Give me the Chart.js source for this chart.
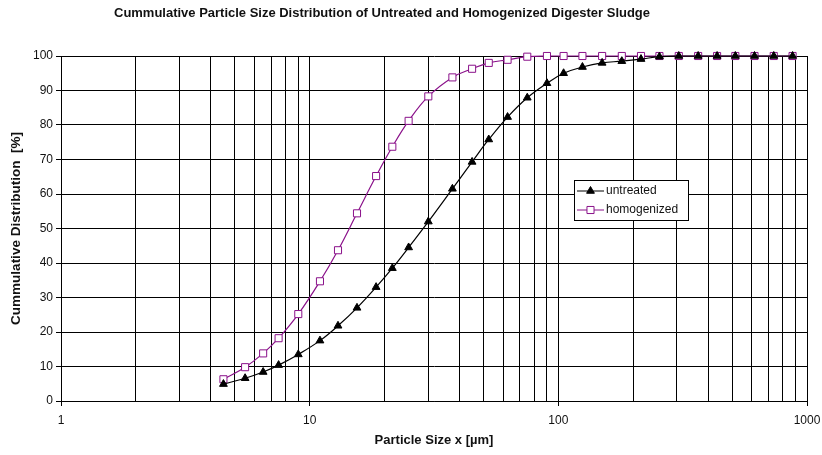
<!DOCTYPE html>
<html>
<head>
<meta charset="utf-8">
<title>Cummulative Particle Size Distribution</title>
<script src="https://cdn.jsdelivr.net/npm/chart.js@4.4.0/dist/chart.umd.min.js"></script>
<style>
  html, body { margin: 0; padding: 0; background: #fff; }
  canvas { display: block; }
</style>
</head>
<body>
<canvas id="psdChart" width="822" height="455"></canvas>
<script>
// particle size classes [µm]
const sizes = [4.5, 5.5, 6.5, 7.5, 9, 11, 13, 15.5, 18.5, 21.5, 25, 30, 37.5, 45, 52.5, 62.5, 75, 90,
  105, 125, 150, 180, 215, 255, 305, 365, 435, 515, 615, 735, 875];

// cumulative distribution [%]
const untreated = [4.9, 6.6, 8.4, 10.4, 13.5, 17.5, 21.8, 27.0, 33.0, 38.5, 44.5, 52.0, 61.5, 69.3, 75.8,
  82.3, 87.9, 92.1, 95.0, 96.8, 98.0, 98.5, 99.1, 99.8, 100, 100, 100, 100, 100, 100, 100];
const homogenized = [6.3, 9.8, 13.8, 18.2, 25.2, 34.7, 43.7, 54.4, 65.2, 73.7, 81.2, 88.3, 93.8, 96.3, 98.0,
  98.9, 99.8, 100, 100, 100, 100, 100, 100, 100, 100, 100, 100, 100, 100, 100, 100];

const xTicks = [1, 2, 3, 4, 5, 6, 7, 8, 9, 10, 20, 30, 40, 50, 60, 70, 80, 90,
  100, 200, 300, 400, 500, 600, 700, 800, 900, 1000];
const xLabels = [1, 10, 100, 1000];
const yTicks = [0, 10, 20, 30, 40, 50, 60, 70, 80, 90, 100];

const chartTitle = "Cummulative Particle Size Distribution of Untreated and Homogenized Digester Sludge";
const purple = "#8a118a";

Chart.defaults.font.family = "'Liberation Sans', Arial, sans-serif";
Chart.defaults.font.size = 12;
Chart.defaults.color = "#111";

const titlePlugin = {
  id: "plainTitle",
  afterDraw(chart) {
    const ctx = chart.ctx;
    ctx.save();
    ctx.font = "bold 13px 'Liberation Sans', Arial, sans-serif";
    ctx.fillStyle = "#111";
    ctx.textBaseline = "middle";
    ctx.textAlign = "left";
    ctx.fillText(chartTitle, 114, 13, 536);
    ctx.restore();
  }
};

// legend box sits inside the plot, like the original
const legendBox = {
  id: "legendBox",
  afterDraw(chart) {
    const ctx = chart.ctx;
    const left = 574, top = 180, w = 114, h = 40;
    ctx.save();
    ctx.fillStyle = "#fff";
    ctx.fillRect(left, top, w, h);
    ctx.strokeStyle = "#000";
    ctx.lineWidth = 1;
    ctx.strokeRect(left + 0.5, top + 0.5, w, h);
    chart.data.datasets.forEach((ds, i) => {
      const y = top + 11 + i * 19;
      ctx.strokeStyle = ds.borderColor;
      ctx.lineWidth = 1;
      ctx.beginPath();
      ctx.moveTo(left + 3, y);
      ctx.lineTo(left + 30, y);
      ctx.stroke();
      ctx.fillStyle = ds.pointBackgroundColor;
      ctx.strokeStyle = ds.pointBorderColor;
      Chart.helpers.drawPoint(ctx, {
        pointStyle: ds.pointStyle, radius: ds.pointRadius, rotation: 0, borderWidth: 1
      }, left + 16.5, y);
      ctx.fillStyle = "#111";
      ctx.font = "12px 'Liberation Sans', Arial, sans-serif";
      ctx.textBaseline = "middle";
      ctx.fillText(ds.label, left + 32, y);
    });
    ctx.restore();
  }
};

const ctx = document.getElementById("psdChart").getContext("2d");
new Chart(ctx, {
  type: "line",
  data: {
    datasets: [{
      label: "untreated",
      data: sizes.map((s, i) => ({ x: s, y: untreated[i] })),
      borderColor: "#000",
      borderWidth: 1.2,
      pointStyle: "triangle",
      pointRadius: 4.5,
      pointBackgroundColor: "#000",
      pointBorderColor: "#000",
      pointBorderWidth: 1,
      tension: 0.4,
      clip: 10
    }, {
      label: "homogenized",
      data: sizes.map((s, i) => ({ x: s, y: homogenized[i] })),
      borderColor: purple,
      borderWidth: 1.2,
      pointStyle: "rect",
      pointRadius: 5,
      pointBackgroundColor: "#fff",
      pointBorderColor: purple,
      pointBorderWidth: 1,
      tension: 0.4,
      clip: 10
    }]
  },
  options: {
    responsive: false,
    animation: false,
    layout: { padding: { top: 56, right: 15, left: 0, bottom: 0 } },
    plugins: {
      legend: { display: false },
      title: { display: false },
      tooltip: { enabled: false }
    },
    scales: {
      x: {
        type: "logarithmic",
        min: 1,
        max: 1000,
        afterBuildTicks: scale => { scale.ticks = xTicks.map(v => ({ value: v })); },
        afterFit: scale => {
          scale.height = 54;
          scale.paddingLeft = 0;
          scale.paddingRight = 0;
        },
        grid: {
          color: "#000",
          lineWidth: 1,
          tickLength: 5,
          tickColor: c => xLabels.includes(c.tick.value) ? "#000" : "rgba(0,0,0,0)"
        },
        border: { color: "#000", width: 1 },
        ticks: {
          autoSkip: false,
          maxRotation: 0,
          padding: 7,
          callback: v => xLabels.includes(v) ? String(v) : ""
        },
        title: {
          display: true,
          text: "Particle Size x [µm]",
          font: { weight: "bold", size: 13 },
          padding: { top: 0, bottom: 7 }
        }
      },
      y: {
        min: 0,
        max: 100,
        afterBuildTicks: scale => { scale.ticks = yTicks.map(v => ({ value: v })); },
        afterFit: scale => { scale.width = 61; },
        grid: { color: "#000", lineWidth: 1, tickLength: 5, tickColor: "#000" },
        border: { color: "#000", width: 1 },
        ticks: { padding: 3 },
        title: {
          display: true,
          text: "Cummulative Distribution  [%]",
          font: { weight: "bold", size: 13.5 },
          padding: { top: 8, bottom: 0 }
        }
      }
    }
  },
  plugins: [titlePlugin, legendBox]
});
</script>
</body>
</html>
